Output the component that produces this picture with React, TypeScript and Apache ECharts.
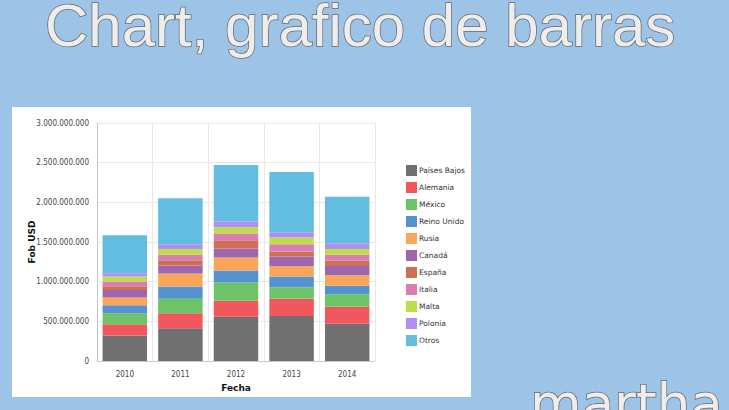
import React, { useEffect, useRef } from "react";
import * as echarts from "echarts";

const years = ["2010", "2011", "2012", "2013", "2014"];
const countries = [
  "Países Bajos",
  "Alemania",
  "México",
  "Reino Unido",
  "Rusia",
  "Canadá",
  "España",
  "Italia",
  "Malta",
  "Polonia",
  "Otros",
];
const paisesBajos = [320000000, 413000000, 559000000, 568000000, 471000000];
const alemania = [144000000, 189000000, 202000000, 218000000, 214000000];
const mexico = [138000000, 184000000, 227000000, 144000000, 157000000];
const reinoUnido = [101000000, 152000000, 152000000, 134000000, 108000000];
const rusia = [96000000, 164000000, 164000000, 131000000, 132000000];
const canada = [97000000, 101000000, 113000000, 121000000, 117000000];
const espana = [47000000, 68000000, 106000000, 60000000, 67000000];
const italia = [58000000, 67000000, 84000000, 97000000, 72000000];
const malta = [63000000, 75000000, 80000000, 83000000, 75000000];
const polonia = [43000000, 60000000, 71000000, 68000000, 72000000];
const otros = [479000000, 580000000, 712000000, 757000000, 585000000];
const seriesValues = [
  paisesBajos,
  alemania,
  mexico,
  reinoUnido,
  rusia,
  canada,
  espana,
  italia,
  malta,
  polonia,
  otros,
];
const colors = [
  "#707070",
  "#f1575d",
  "#6cc466",
  "#5593d0",
  "#f9a65a",
  "#9e67ab",
  "#ce7058",
  "#d77fb3",
  "#bddd4a",
  "#b18ff0",
  "#62bde0",
];

const fmt = (v: number) => String(v).replace(/\B(?=(\d{3})+(?!\d))/g, ".");

export default function App() {
  const ref = useRef<HTMLDivElement>(null);
  useEffect(() => {
    if (!ref.current) return;
    const chart = echarts.init(ref.current, null, { renderer: "svg" });
    chart.setOption({
      animation: false,
      backgroundColor: "#9dc3e6",
      color: colors,
      textStyle: { fontFamily: "DejaVu Sans" },
      graphic: [
        {
          type: "rect",
          z: -1,
          shape: { x: 12, y: 107, width: 459, height: 290 },
          style: { fill: "#ffffff" },
        },
        {
          type: "text",
          z: 10,
          x: 45,
          y: 25,
          style: {
            text: "Chart, grafico de barras",
            font: "60px 'Liberation Sans'",
            lineHeight: 46,
            textVerticalAlign: "middle",
            fill: "#ededed",
            stroke: "#6a6a6a",
            lineWidth: 1.5,
          },
        },
        {
          type: "text",
          z: 10,
          x: 530,
          y: 430,
          style: {
            text: "martha",
            font: "53px 'DejaVu Sans'",
            textVerticalAlign: "bottom",
            fill: "#ededed",
            stroke: "#6a6a6a",
            lineWidth: 1.5,
          },
        },
      ],
      legend: {
        orient: "vertical",
        left: 401,
        top: 160,
        itemWidth: 11,
        itemHeight: 11,
        itemGap: 6,
        icon: "rect",
        textStyle: { fontSize: 7.5, color: "#333", fontFamily: "DejaVu Sans", padding: [0, 0, 0, -3] },
        data: countries,
      },
      grid: { left: 97, right: 354, top: 123, bottom: 49, containLabel: false },
      xAxis: {
        type: "category",
        data: years,
        name: "Fecha",
        nameLocation: "middle",
        nameGap: 22,
        nameMoveOverlap: false,
        nameTextStyle: { fontWeight: "bold", fontSize: 9, color: "#111" },
        axisLine: { lineStyle: { color: "#c8c8c8" } },
        axisTick: { show: false },
        axisLabel: { fontSize: 8, color: "#444", margin: 9, fontFamily: "DejaVu Sans Condensed" },
        splitLine: { show: true, lineStyle: { color: "#e8e8e8" } },
      },
      yAxis: {
        type: "value",
        min: 0,
        max: 3000000000,
        interval: 500000000,
        name: "Fob USD",
        nameLocation: "middle",
        nameGap: 61,
        nameMoveOverlap: false,
        nameTextStyle: { fontWeight: "bold", fontSize: 9, color: "#111" },
        axisLine: { show: true, lineStyle: { color: "#c8c8c8" } },
        axisTick: { show: false },
        axisLabel: {
          fontSize: 8,
          color: "#444",
          margin: 8,
          fontFamily: "DejaVu Sans Condensed",
          formatter: fmt,
        },
        splitLine: { show: true, lineStyle: { color: "#e8e8e8" } },
      },
      series: countries.map((name, i) => ({
        name,
        type: "bar",
        stack: "total",
        barCategoryGap: "20%",
        data: seriesValues[i],
      })),
    });
    return () => chart.dispose();
  }, []);
  return (
    <div
      ref={ref}
      style={{ position: "absolute", left: 0, top: 0, width: 729, height: 410 }}
    />
  );
}
